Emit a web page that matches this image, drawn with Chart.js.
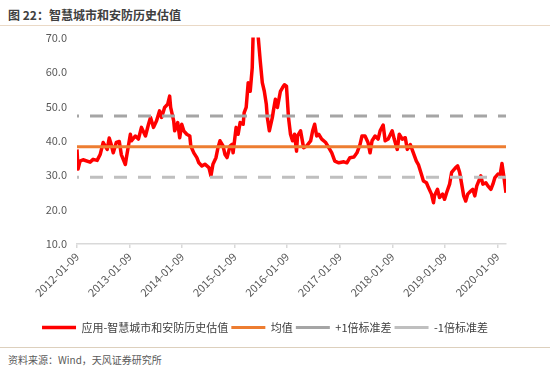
<!DOCTYPE html>
<html>
<head>
<meta charset="utf-8">
<script src="https://cdn.jsdelivr.net/npm/chart.js@4.4.0/dist/chart.umd.min.js"></script>
<style>
body{margin:0;background:#fff;font-family:"Noto Sans CJK SC",sans-serif;}
#wrap{position:relative;width:550px;height:375px;overflow:hidden;}
#titulo{position:absolute;left:8px;top:6px;font-size:12px;font-weight:bold;color:#404040;line-height:17px;}
#linea1{position:absolute;left:0;top:25px;width:550px;border-top:1.5px solid #ead9c6;}
#grafico{position:absolute;left:0;top:21px;width:550px;height:326px;}
#linea2{position:absolute;left:0;top:347px;width:550px;border-top:1.5px solid #ddd0bd;}
#fuente{position:absolute;left:8px;top:353px;font-size:10px;color:#595959;line-height:14px;}
</style>
</head>
<body>
<div id="wrap">
  <div id="titulo">图 22：智慧城市和安防历史估值</div>
  <div id="linea1"></div>
  <div id="grafico"><canvas id="myChart" width="550" height="326"></canvas></div>
  <div id="linea2"></div>
  <div id="fuente">资料来源：Wind，天风证券研究所</div>
</div>
<script>
// semanas desde 2012-01-09 y valor PE de cada semana
var semanas = [0,1,3,6,13,16,20,23,26,30,32,34,36,39,42,44,48,49,53,54,58,61,64,68,71,73,76,79,82,84,87,90,92,93,96,97,100,102,104,106,109,112,113,116,119,121,124,127,131,133,135,138,140,142,145,147,149,152,154,155,158,160,162,165,166,168,170,172,174,175,177,180,182,184,186,188,189,191,194,195,197,199,202,204,206,208,210,212,214,216,218,219,222,225,228,232,234,236,238,240,243,247,250,253,256,260,265,268,271,275,278,281,283,286,289,291,293,296,299,301,304,306,309,313,315,318,320,323,326,328,331,334,337,339,342,344,347,349,352,354,355,358,360,363,365,367,370,372,376,378,380,382,384,386,388,391,393,395,397,401,403,406,408,411,413,415,418,420,422,424,426];
var valores = [37.5,31.8,34.1,34.5,33.8,34.6,34.3,36.0,39.5,37.5,40.8,38.9,36.5,39.5,39.8,36.0,33.1,35.0,41.9,40.0,41.4,40.5,43.9,41.4,44.8,46.8,43.9,45.8,48.7,46.8,49.7,50.6,53.0,49.7,45.8,42.9,45.3,40.9,44.8,42.9,41.9,41.4,38.5,36.5,35.1,33.6,32.7,33.2,32.2,29.8,33.2,35.1,38.0,40.0,38.5,36.0,35.1,38.5,39.0,36.5,43.9,41.9,45.3,44.8,48.2,49.7,56.9,54.4,61.2,72.0,84.0,70.0,63.1,56.9,54.4,50.6,46.8,42.9,46.8,48.7,52.1,49.7,54.4,55.4,56.3,55.9,46.8,41.9,40.0,41.9,37.0,41.4,42.9,38.0,38.5,40.0,42.9,44.8,41.4,41.9,40.5,39.5,38.0,36.5,34.1,33.6,33.9,33.6,35.1,35.3,36.5,38.9,41.4,41.4,39.5,36.5,40.0,41.4,40.5,42.9,44.6,40.0,40.5,42.9,40.5,37.5,41.9,40.5,40.9,37.5,38.9,36.5,34.1,33.1,30.3,28.3,27.8,26.4,24.5,22.0,24.0,25.9,23.5,24.5,23.0,24.9,27.4,30.8,32.2,32.7,30.8,27.4,24.0,22.5,24.5,25.4,25.9,24.0,26.9,29.8,27.4,27.8,26.9,25.9,27.4,29.3,30.3,29.8,33.4,29.3,24.9];
var media = 38.3;
var masSigma = 47.2;
var menosSigma = 29.4;
var anios = [2012,2013,2014,2015,2016,2017,2018,2019,2020];
var etiquetas = ['应用-智慧城市和安防历史估值','均值','+1倍标准差','-1倍标准差'];

var inicio = Date.UTC(2012,0,9);
var dia = 86400000;
var ultimo = semanas[semanas.length-1]*7;

var serie = semanas.map(function(s,i){ return {x:s*7, y:valores[i]}; });
function plana(v){ return [{x:0,y:v},{x:ultimo,y:v}]; }

var ctx = document.getElementById('myChart').getContext('2d');
var myChart = new Chart(ctx, {
  type: 'line',
  data: {
    datasets: [
      {label: etiquetas[3], data: plana(menosSigma), borderColor:'#bfbfbf', borderWidth:3, borderDash:[13,11], borderDashOffset:11, pointRadius:0},
      {label: etiquetas[2], data: plana(masSigma), borderColor:'#a5a5a5', borderWidth:3, borderDash:[13,11], borderDashOffset:11, pointRadius:0},
      {label: etiquetas[1], data: plana(media), borderColor:'#ed7d31', borderWidth:3, pointRadius:0},
      {label: etiquetas[0], data: serie, borderColor:'#ff0000', borderWidth:3.5, pointRadius:0, borderJoinStyle:'round'}
    ]
  },
  options: {
    responsive: false,
    animation: false,
    layout: {padding: {left:24, right:44, top:2, bottom:4}},
    plugins: {
      tooltip: {enabled:false},
      legend: {
        position: 'bottom',
        labels: {
          usePointStyle: true,
          pointStyle: 'line',
          pointStyleWidth: 34,
          padding: 3,
          color: '#404040',
          font: {size:11, family:'"Noto Sans CJK SC", sans-serif'},
          sort: function(a,b){ return b.datasetIndex - a.datasetIndex; }
        }
      }
    },
    scales: {
      x: {
        type: 'linear',
        min: 0,
        max: ultimo,
        afterBuildTicks: function(s){
          s.ticks = anios.map(function(a){ return {value:(Date.UTC(a,0,9)-inicio)/dia}; });
        },
        afterFit: function(s){ s.height = 75; },
        grid: {display:true, drawOnChartArea:false, drawTicks:true, tickLength:4, color:'#d9d9d9', lineWidth:1.5},
        border: {color:'#d9d9d9', width:1.5},
        ticks: {
          autoSkip:false, maxRotation:45, minRotation:45, padding:2,
          color:'#595959', font:{size:11, family:'"Noto Sans CJK SC", sans-serif'},
          callback: function(v){ return new Date(inicio + v*dia).toISOString().slice(0,10); }
        }
      },
      y: {
        min: 10,
        max: 70,
        afterFit: function(s){ s.width = 53; },
        grid: {display:false, drawTicks:false},
        border: {display:false},
        ticks: {
          stepSize:10, padding:10,
          color:'#595959', font:{size:11, family:'"Noto Sans CJK SC", sans-serif'},
          callback: function(v){ return v.toFixed(1); }
        }
      }
    }
  }
});
</script>
</body>
</html>
